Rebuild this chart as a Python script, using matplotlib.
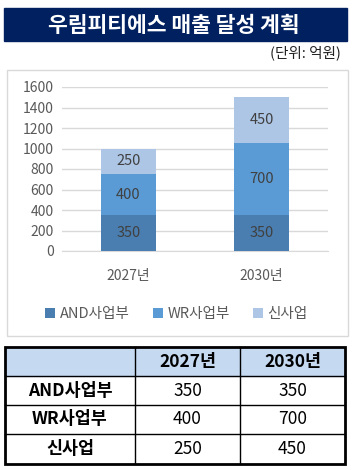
import matplotlib
matplotlib.use("Agg")
import matplotlib.pyplot as plt
from matplotlib.patches import Rectangle

plt.rcParams['font.family'] = ['Noto Sans CJK KR', 'DejaVu Sans']

title = "우림피티에스 매출 달성 계획"
unit = "(단위: 억원)"
years = ["2027년", "2030년"]
series = ["AND사업부", "WR사업부", "신사업"]
and_vals = [350, 350]
wr_vals = [400, 700]
new_vals = [250, 450]
colors = ["#4A7EB0", "#5B9BD5", "#ADC6E6"]

W, H = 352, 470
fig = plt.figure(figsize=(W / 100, H / 100), dpi=100)

# overlay axes in pixel coordinates for banner, chart frame and table
bg = fig.add_axes([0, 0, 1, 1])
bg.set_xlim(0, W)
bg.set_ylim(H, 0)
bg.axis("off")

bg.add_patch(Rectangle((4, 8), 343, 33, color="#002060"))
bg.text(174, 25, title, color="white", fontsize=15.5, fontweight="bold",
        ha="center", va="center")
bg.text(341, 53, unit, color="#222222", fontsize=10.5, ha="right", va="center")

bg.add_patch(Rectangle((7, 70), 341, 266, fill=False, ec="#D9D9D9", lw=1))

# stacked bar chart
ax = fig.add_axes([62 / W, 1 - 251 / H, 266 / W, 164 / H])
x = range(len(years))
bottoms = [0] * len(years)
for name, vals, c in zip(series, [and_vals, wr_vals, new_vals], colors):
    bars = ax.bar(x, vals, 0.41, bottom=bottoms, color=c, label=name, zorder=3)
    ax.bar_label(bars, labels=[str(v) for v in vals], label_type="center",
                 fontsize=10.5, color="#404040")
    bottoms = [b + v for b, v in zip(bottoms, vals)]

ax.set_xlim(-0.5, 1.5)
ax.set_ylim(0, 1600)
ax.set_yticks(range(0, 1601, 200))
ax.set_xticks(list(x))
ax.set_xticklabels(years)
ax.grid(axis="y", color="#D9D9D9", lw=1, zorder=0)
for s in ax.spines.values():
    s.set_visible(False)
ax.spines["bottom"].set_visible(True)
ax.spines["bottom"].set_color("#D9D9D9")
ax.tick_params(length=0, labelsize=10, colors="#595959")
ax.tick_params(axis="y", pad=6)
ax.tick_params(axis="x", pad=13)
ax.legend(loc="upper center", bbox_to_anchor=(0.43, -0.26), ncol=3,
          frameon=False, fontsize=10.5, handlelength=0.7, handleheight=0.7,
          handletextpad=0.3, columnspacing=1.6, labelcolor="#595959")

# table
col_x = [5, 135, 240, 345]
row_y = [347, 376, 405, 434, 464]
bg.add_patch(Rectangle((col_x[0], row_y[0]), col_x[-1] - col_x[0],
                       row_y[1] - row_y[0], color="#C5D9F1"))
for cx in col_x[1:-1]:
    bg.plot([cx, cx], [row_y[0], row_y[-1]], color="black", lw=1)
for ry in row_y[1:-1]:
    bg.plot([col_x[0], col_x[-1]], [ry, ry], color="black", lw=1)
bg.add_patch(Rectangle((col_x[0], row_y[0]), col_x[-1] - col_x[0],
                       row_y[-1] - row_y[0], fill=False, ec="black", lw=2))

def cell(ci, ri, txt, bold):
    bg.text((col_x[ci] + col_x[ci + 1]) / 2, (row_y[ri] + row_y[ri + 1]) / 2,
            txt, ha="center", va="center", fontsize=12.5,
            fontweight="bold" if bold else "normal", color="black")

for j, y in enumerate(years):
    cell(j + 1, 0, y, True)
for i, (name, vals) in enumerate(zip(series, [and_vals, wr_vals, new_vals])):
    cell(0, i + 1, name, True)
    for j, v in enumerate(vals):
        cell(j + 1, i + 1, str(v), False)

fig.savefig("out.png", dpi=100)
